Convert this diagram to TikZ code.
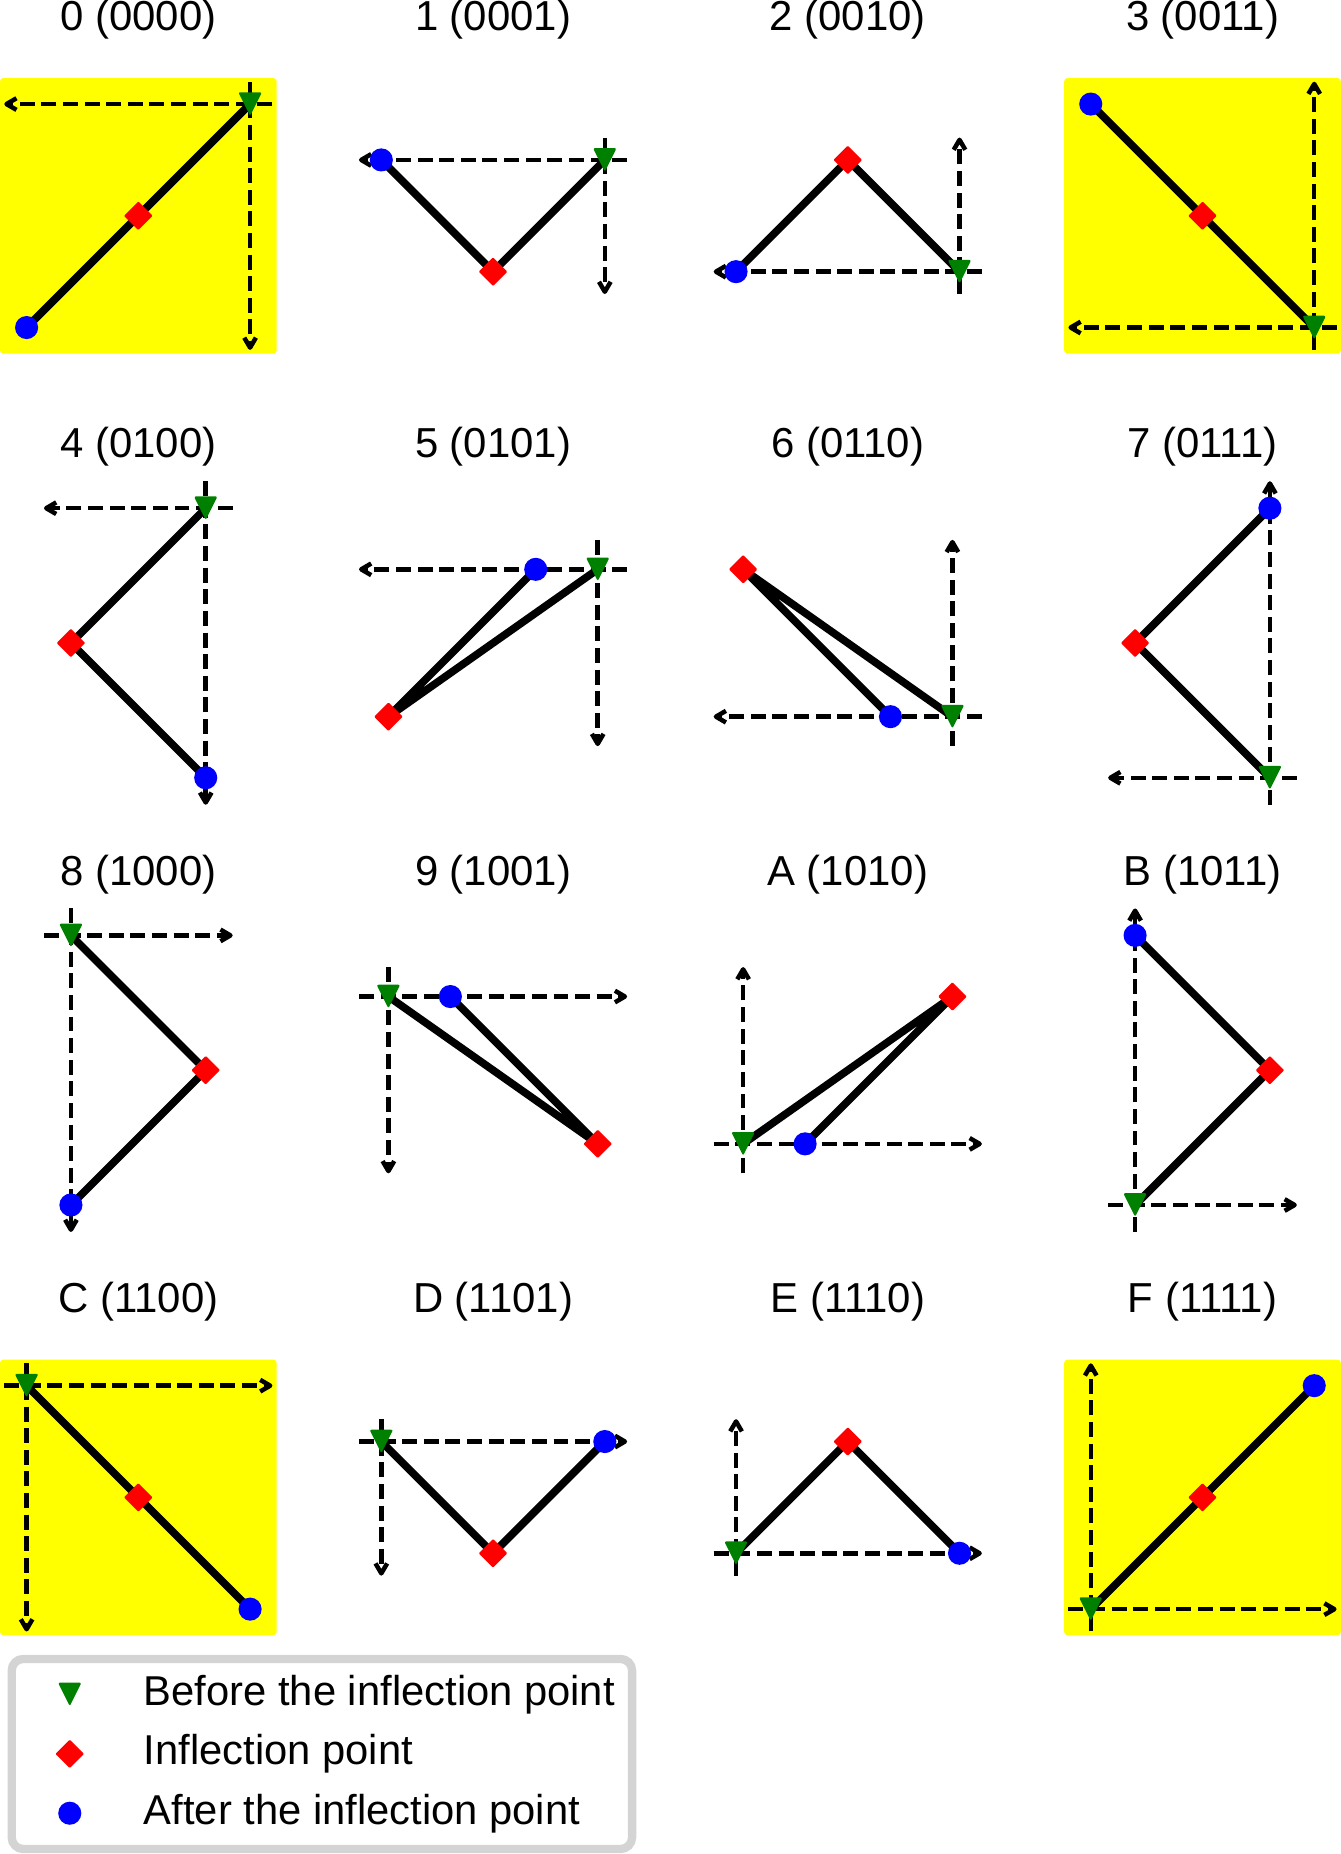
\documentclass[tikz,border=0pt]{standalone}
\usepackage{fontspec}
\setmainfont{Liberation Sans}
\usetikzlibrary{arrows.meta,shapes.geometric}
\definecolor{mplgreen}{HTML}{008000}
\definecolor{mplred}{HTML}{FF0000}
\definecolor{mplblue}{HTML}{0000FF}
\definecolor{panelyellow}{HTML}{FFFF00}
\definecolor{legendgray}{HTML}{D4D4D4}
\begin{document}
\begin{tikzpicture}[x=0.025cm,y=-0.025cm,
  axisline/.style={line width=2.7pt,dash pattern=on 9pt off 4pt,-{Straight Barb[length=6pt,width=7pt,line join=round]}},
  traj/.style={line width=4.6pt,line join=round},
  gmark/.style={minimum size=14.2pt,inner sep=0pt,outer sep=0pt,
    path picture={\fill[mplgreen,rounded corners=1.2pt] (path picture bounding box.north west) -- (path picture bounding box.north east) -- (path picture bounding box.south) -- cycle;}},
  rmark/.style={diamond,aspect=1,minimum size=16pt,inner sep=0pt,fill=mplred,draw=mplred,line width=1.2pt,line join=round},
  bmark/.style={circle,minimum size=13.9pt,inner sep=0pt,fill=mplblue},
  ptitle/.style={font=\fontsize{25.2}{30}\selectfont,anchor=base,inner sep=0pt},
  legtext/.style={font=\fontsize{25.1}{30}\selectfont,anchor=base west,inner sep=0pt},
  yellowbg/.style={fill=panelyellow,rounded corners=2pt}]
\useasboundingbox (0,0) rectangle (1134,1568);

% yellow backgrounds of the straight-line panels
\fill[yellowbg] (0,66) rectangle (234,299);
\fill[yellowbg] (900,66) rectangle (1134,299);
\fill[yellowbg] (0,1149.9) rectangle (234,1382.9);
\fill[yellowbg] (900,1149.9) rectangle (1134,1382.9);

% titles
\foreach \k/\t/\x/\y in {
  0/0 (0000)/117/26, 1/1 (0001)/417/26, 2/2 (0010)/717/26, 3/3 (0011)/1017/26,
  4/4 (0100)/117/387.3, 5/5 (0101)/417/387.3, 6/6 (0110)/717/387.3, 7/7 (0111)/1017/387.3,
  8/8 (1000)/117/748.6, 9/9 (1001)/417/748.6, A/A (1010)/717/748.6, B/B (1011)/1017/748.6,
  C/C (1100)/117/1109.9, D/D (1101)/417/1109.9, E/E (1110)/717/1109.9, F/F (1111)/1017/1109.9}
  {\node[ptitle] (title\k) at (\x,\y) {\t};}

% panels: id / green / red / blue / horizontal axis start,end / vertical axis start,end
\foreach \i/\gx/\gy/\rx/\ry/\bx/\by/\xs/\xe/\ys/\ye in {
  0/211.5/88/117/182.5/22.5/277/230.4/3.6/69.1/295.9,
  1/511.5/135.25/417/229.75/322.5/135.25/530.4/303.6/116.35/248.65,
  2/811.5/229.75/717/135.25/622.5/229.75/830.4/603.6/248.65/116.35,
  3/1111.5/277/1017/182.5/922.5/88/1130.4/903.6/295.9/69.1,
  4/174/429.8/60/543.8/174/657.8/196.8/37.2/407/680.6,
  5/505.5/481.5/328.5/606.1/453.1/481.5/530.4/303.6/456.6/631,
  6/805.5/606.1/628.5/481.5/753.1/606.1/830.4/603.6/631/456.6,
  7/1074/657.8/960/543.8/1074/429.8/1096.8/937.2/680.6/407,
  8/60/791.1/174/905.1/60/1019.1/37.2/196.8/768.3/1041.9,
  9/328.5/842.8/505.5/967.4/380.9/842.8/303.6/530.4/817.9/992.3,
  A/628.5/967.4/805.5/842.8/680.9/967.4/603.6/830.4/992.3/817.9,
  B/960/1019.1/1074/905.1/960/791.1/937.2/1096.8/1041.9/768.3,
  C/22.5/1171.9/117/1266.4/211.5/1360.9/3.6/230.4/1153/1379.8,
  D/322.5/1219.15/417/1313.65/511.5/1219.15/303.6/530.4/1200.25/1332.55,
  E/622.5/1313.65/717/1219.15/811.5/1313.65/603.6/830.4/1332.55/1200.25,
  F/922.5/1360.9/1017/1266.4/1111.5/1171.9/903.6/1130.4/1379.8/1153}
{
  \coordinate (g\i) at (\gx,\gy);
  \coordinate (r\i) at (\rx,\ry);
  \coordinate (b\i) at (\bx,\by);
  \coordinate (hs\i) at (\xs,\gy);
  \coordinate (he\i) at (\xe,\gy);
  \coordinate (vs\i) at (\gx,\ys);
  \coordinate (ve\i) at (\gx,\ye);
  \draw[axisline] (hs\i) -- (he\i);
  \draw[axisline] (vs\i) -- (ve\i);
  \draw[traj] (g\i) -- (r\i) -- (b\i);
  \node[gmark] (G\i) at (g\i) {};
  \node[rmark] (R\i) at (r\i) {};
  \node[bmark] (B\i) at (b\i) {};
}

% legend
\draw[draw=legendgray,fill=white,line width=5pt,rounded corners=7pt] (9.9,1403) rectangle (534.6,1563.8);
\node[gmark] (lg) at (59,1433) {};
\node[rmark] (lr) at (59,1483.3) {};
\node[bmark] (lb) at (59,1533.5) {};
\node[legtext] (lgt) at (121.4,1442.4) {Before the inflection point};
\node[legtext] (lrt) at (121.4,1492.6) {Inflection point};
\node[legtext] (lbt) at (121.4,1542.8) {After the inflection point};
\end{tikzpicture}
\end{document}
